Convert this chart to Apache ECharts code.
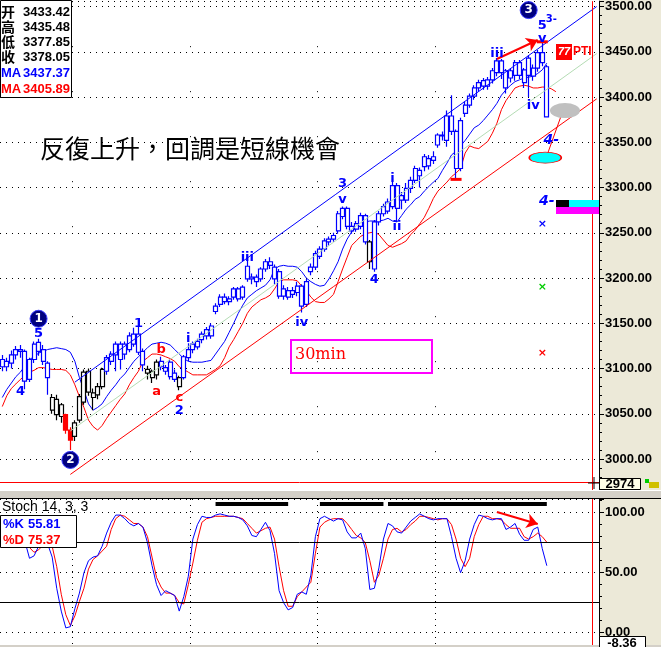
<!DOCTYPE html>
<html><head><meta charset="utf-8">
<script src="https://cdn.jsdelivr.net/npm/echarts@6/dist/echarts.min.js"></script>
<style>html,body{margin:0;padding:0;background:#fff;}#c{width:661px;height:647px;}</style>
</head><body><div id="c"></div>
<script>
// ---------- data ----------
const categories = Array.from({length: 132}, (_, i) => String(i + 1));
const opens = [3110,3102,3106,3115,3121,3119,3088,3110,3119,3121, 3106,3068,3066,3060,3049,3032,3025,3043,3063,3097, 3073,3071,3080,3097,3108,3115,3127,3116,3121,3127, 3138,3119,3099,3097,3093,3108,3101,3107,3095,3090, 3090,3112,3121,3124,3132,3143,3136,3163,3171,3179, 3174,3179,3188,3179,3213,3199,3201,3199,3210,3214, 3212,3207,3180,3186,3182,3184,3191,3171,3207,3212, 3224,3232,3243,3243,3252,3268,3277,3257,3254,3257, 3269,3240,3210,3262,3271,3274,3279,3302,3286,3286, 3299,3308,3313,3323,3332,3330,3347,3357,3352,3379, 3362,3321,3382,3391,3401,3410,3412,3419,3419,3427, 3440,3429,3421,3424,3438,3430,3424,3432,3432,3449, 3433.42];
const closes = [3102,3108,3115,3121,3119,3086,3110,3127,3129,3108, 3090,3054,3049,3047,3032,3021,3040,3069,3096,3074, 3068,3080,3099,3112,3116,3127,3110,3127,3136,3138, 3118,3104,3095,3090,3107,3102,3097,3091,3088,3080, 3113,3121,3127,3130,3138,3136,3147,3169,3179,3174, 3177,3188,3177,3190,3199,3201,3196,3210,3218,3218, 3199,3180,3188,3179,3186,3191,3169,3196,3212,3227, 3232,3241,3240,3247,3271,3277,3257,3252,3260,3269, 3240,3218,3262,3271,3279,3284,3302,3277,3291,3299, 3308,3321,3319,3334,3324,3334,3358,3358,3379,3362, 3321,3374,3391,3401,3410,3416,3418,3412,3429,3440, 3427,3410,3429,3438,3424,3416,3443,3423,3449,3438, 3378.05];
const highs = [3115,3112,3120,3125,3126,3121,3112,3130,3133,3126, 3108,3072,3071,3062,3050,3035,3043,3072,3099,3100, 3078,3084,3101,3115,3119,3130,3130,3130,3140,3145, 3147,3122,3103,3099,3110,3113,3104,3110,3099,3092, 3115,3128,3130,3133,3141,3146,3150,3172,3182,3183, 3180,3190,3190,3192,3223,3205,3204,3212,3221,3223, 3215,3210,3192,3190,3190,3196,3193,3199,3216,3230, 3235,3244,3246,3250,3274,3279,3279,3262,3263,3272, 3271,3242,3264,3274,3282,3288,3310,3305,3295,3305, 3312,3324,3322,3337,3336,3340,3360,3362,3385,3402, 3364,3377,3395,3404,3413,3419,3421,3422,3432,3443, 3442,3431,3432,3441,3441,3432,3446,3436,3452,3460, 3435.48];
const lows = [3097,3097,3100,3110,3112,3077,3085,3106,3114,3104, 3071,3050,3043,3040,3028,3010,3020,3040,3060,3070, 3054,3066,3077,3093,3104,3097,3099,3110,3118,3124, 3115,3097,3088,3084,3088,3098,3093,3088,3085,3076, 3088,3108,3117,3121,3128,3132,3133,3160,3168,3171, 3170,3176,3174,3176,3196,3193,3190,3196,3207,3210, 3193,3177,3176,3176,3178,3180,3162,3168,3203,3209, 3221,3229,3236,3240,3249,3265,3254,3249,3251,3254, 3237,3210,3207,3258,3268,3271,3276,3262,3276,3283, 3294,3305,3300,3318,3320,3326,3344,3352,3345,3358, 3310,3318,3378,3388,3397,3406,3408,3408,3415,3423, 3420,3404,3416,3418,3420,3410,3400,3418,3428,3434, 3377.85];
// paint-bar class per candle: b = normal, k = black paint bar, r = red paint bar
const paint = 'bbbbbbbbbbbkkkrrkkkkkkkbbbbbbbbbkkkbbbbk' + 'bbbbbbbbbbbbbbbbbbbbbbbbbbbbbbbbbbbbbbbbbk' + 'bbbbbbbbbbbbbbbbbbbbbbbbbbbbbbbbbbbbbbb';
const maShort = [3068,3077,3084,3091,3096,3103,3110,3113,3117,3119, 3121,3122,3123,3122,3121,3118,3108,3090,3076,3061, 3054,3057,3061,3069,3076,3082,3089,3094,3101,3108, 3113,3118,3123,3127,3128,3129,3128,3126,3121,3116, 3111,3108,3107,3107,3107,3108,3109,3116,3123,3130, 3140,3150,3161,3170,3178,3182,3186,3189,3192,3198, 3210,3213,3214,3213,3213,3212,3207,3200,3196,3193, 3191,3192,3199,3208,3218,3232,3243,3251,3256,3259, 3262,3263,3263,3263,3264,3266,3263,3262,3269,3276, 3281,3287,3290,3296,3301,3306,3310,3319,3327,3336, 3340,3346,3352,3359,3366,3369,3374,3380,3386,3393, 3402,3408,3413,3417,3419,3421,3422,3423,3426,3430, 3437.37];
const maLong = [3058,3070,3078,3083,3088,3092,3096,3098,3101,3101, 3100,3099,3099,3099,3098,3093,3082,3069,3057,3043, 3036,3032,3037,3045,3052,3059,3066,3072,3082,3090, 3097,3108,3112,3116,3116,3115,3113,3111,3108,3102, 3099,3096,3093,3093,3093,3093,3096,3099,3103,3112, 3124,3132,3141,3150,3161,3168,3172,3176,3178,3181, 3188,3196,3198,3198,3198,3197,3191,3186,3179,3174, 3173,3173,3177,3182,3196,3210,3223,3236,3241,3246, 3249,3250,3251,3248,3242,3236,3234,3236,3238,3241, 3248,3253,3260,3267,3277,3288,3296,3301,3306,3312, 3316,3321,3338,3346,3344,3343,3347,3351,3360,3371, 3386,3396,3403,3410,3412,3413,3412,3410,3410,3411, 3411,3409,3405.89];
const stochK = [84,82,80,78,80,76,62,64,72,77, 74,63,37,18,4,5,20,33,50,60, 63,64,72,83,92,98,98,95,91,89, 91,88,75,56,40,31,35,33,31,18, 30,47,78,90,97,96,96,98,99,98, 97,97,96,94,89,81,80,86,92,85, 66,35,25,19,21,32,34,32,48,80, 95,97,95,93,95,94,84,79,79,83, 70,36,37,54,78,91,89,84,83,88, 93,96,99,97,95,94,95,95,95,80, 62,50,60,78,90,98,97,95,94,95, 95,86,88,91,82,77,77,86,88,70, 55.81];
const stochD = [80,80,79,78,78,77,71,67,69,73, 75,72,55,32,15,6,14,26,37,53, 61,64,68,72,86,95,98,97,94,91, 91,88,80,63,46,38,33,33,31,25, 24,40,58,77,92,95,96,97,97,97, 97,97,96,95,91,87,83,85,87,88, 78,55,35,22,22,30,34,38,42,66, 88,92,94,95,95,95,91,86,81,79, 75,60,42,48,62,78,86,87,84,86, 90,93,97,97,96,95,94,95,95,90, 78,62,55,62,80,90,97,97,95,95, 94,90,87,87,87,80,78,80,83,80, 75.37];
// wave-count annotations: [text, bar index, price, colour]
const waveLabels = [
  ['5', 8, 3139, 'blue'], ['4', 4, 3075, 'blue'], ['1', 30, 3150, 'blue'],
  ['a', 34, 3074, 'red'], ['b', 35, 3121, 'red'], ['c', 39, 3068, 'red'], ['2', 39, 3054, 'blue'],
  ['i', 41, 3133, 'blue'], ['iii', 54, 3222, 'blue'], ['iv', 66, 3151, 'blue'],
  ['3', 75, 3304, 'blue'], ['v', 75, 3287, 'blue'], ['4', 82, 3198, 'blue'],
  ['i', 86, 3310, 'blue'], ['ii', 87, 3257, 'blue'], ['iii', 109, 3448, 'blue'],
  ['iv', 117, 3390, 'blue'], ['v', 119, 3464, 'blue'], ['5', 119, 3479, 'blue']
];
const circleLabels = [['1', 8, 3155], ['2', 15, 2999], ['3', 116, 3496]];
const targetLabels = [['4-', 121, 3352], ['4-', 120, 3285]];
const smallMarks = [[119, 3260, '#0000ff'], [119, 3190, '#00cc00'], [119, 3117, '#ff0000']];
const channelBlue = [[16, 3085], [131, 3500]];
const channelRed = [[15, 2983], [131, 3398]];
const channelMid = [[15, 3031], [131, 3448]];
const cursorPrice = 2974;
const cursorBar = 130;
const dayLines = [16, 42, 70, 96];
const stochBars = [[47, 63], [70, 84], [85, 120]];

// ---------- build ----------
const BLUE = '#0000ff', RED = '#ff0000';
const PAINT = {
  b: {color: '#ffffff', color0: BLUE, borderColor: BLUE, borderColor0: BLUE, borderWidth: 1.2},
  k: {color: '#ffffff', color0: '#000000', borderColor: '#000000', borderColor0: '#000000', borderWidth: 1.2},
  r: {color: RED, color0: RED, borderColor: RED, borderColor0: RED, borderWidth: 1.2}
};
const candleData = opens.map((o, i) => ({value: [o, closes[i], lows[i], highs[i]], itemStyle: PAINT[paint[i]]}));
const COL = {blue: BLUE, red: RED};
const txtPt = (t, i, p, color, font) => ({
  coord: [i, p], symbol: 'circle', symbolSize: 1, itemStyle: {color: 'rgba(0,0,0,0)'},
  label: Object.assign({show: true, position: 'inside', formatter: t, color: color,
    fontFamily: 'DejaVu Sans', fontWeight: 'bold', fontSize: 13}, font || {})
});
const markPts = [];
waveLabels.forEach(([t, i, p, c]) => markPts.push(txtPt(t, i, p, COL[c])));
markPts.push(txtPt('3-', 121, 3486, BLUE, {fontSize: 10}));
targetLabels.forEach(([t, i, p]) => markPts.push(txtPt(t, i, p, BLUE, {fontStyle: 'italic', fontSize: 14})));
smallMarks.forEach(([i, p, c]) => markPts.push(txtPt('×', i, p, c, {fontSize: 11})));
circleLabels.forEach(([t, i, p]) => markPts.push({
  coord: [i, p], symbol: 'circle', symbolSize: 17,
  itemStyle: {color: '#000080', borderColor: '#3a3aff', borderWidth: 1},
  label: {show: true, position: 'inside', formatter: t, color: '#fff', fontWeight: 'bold', fontSize: 12, fontFamily: 'DejaVu Sans'}
}));
markPts.push({coord: [119, 3333], symbol: 'circle', symbolSize: [32, 11], symbolOffset: [3, 0],
  itemStyle: {color: '#00ffff', borderColor: RED, borderWidth: 1}, label: {show: false}});
markPts.push({coord: [124, 3385], symbol: 'circle', symbolSize: [30, 15],
  itemStyle: {color: '#c0c0c0'}, label: {show: false}});
markPts.push({coord: [100, 3309], symbol: 'rect', symbolSize: [11, 3], itemStyle: {color: RED}, label: {show: false}});
markPts.push({coord: [119, 3461], symbol: 'rect', symbolSize: [11, 3], itemStyle: {color: RED}, label: {show: false}});

const seg = (a, b, color, extra) => [Object.assign({coord: a, lineStyle: Object.assign({color: color, width: 1, type: 'solid'}, extra || {})}), {coord: b}];

const font = (w, s, f) => w + ' ' + s + 'px ' + f;
const T = (x, y, text, fill, f, align) => ({type: 'text', x: x, y: y, z: 100,
  style: {text: text, fill: fill, font: f, textAlign: align || 'left', align: align || 'left', textVerticalAlign: 'middle', verticalAlign: 'middle'}});
const R = (x, y, w, h, fill, stroke, z) => ({type: 'rect', z: z == null ? 90 : z,
  shape: {x: x, y: y, width: w, height: h}, style: {fill: fill, stroke: stroke || null, lineWidth: 1}});
const L = (x1, y1, x2, y2, stroke, z, w) => ({type: 'line', z: z == null ? 95 : z,
  shape: {x1: x1, y1: y1, x2: x2, y2: y2}, style: {stroke: stroke, lineWidth: w || 1}});

const numF = font('bold', 13, '"Liberation Sans", Arial');
const cjkF = font('bold', 14, '"Noto Sans CJK SC"');
const graphics = [
  R(599, 0, 62, 647, '#ece9d8', null, -5),
  R(0, 490, 661, 9, '#d4d0c8', null, 80),
  L(0, 490.5, 661, 490.5, '#ffffff', 81),
  L(0, 498.5, 661, 498.5, '#000000', 81),
  R(0, 645, 661, 2, '#d4d0c8', null, 80),
  // price legend box
  R(0.5, 0.5, 71, 97, '#ffffff', '#000000'),
  T(1, 12, '开', '#000', cjkF), T(70, 12, '3433.42', '#000', numF, 'right'),
  T(1, 27, '高', '#000', cjkF), T(70, 27, '3435.48', '#000', numF, 'right'),
  T(1, 42, '低', '#000', cjkF), T(70, 42, '3377.85', '#000', numF, 'right'),
  T(1, 57, '收', '#000', cjkF), T(70, 57, '3378.05', '#000', numF, 'right'),
  T(1, 73, 'MA', BLUE, numF), T(70, 73, '3437.37', BLUE, numF, 'right'),
  T(1, 89, 'MA', RED, numF), T(70, 89, '3405.89', RED, numF, 'right'),
  // headline
  T(40, 148, '反復上升，回調是短線機會', '#000', font('normal', 25, '"Noto Sans CJK TC"')),
  // 30min box
  {type: 'rect', z: 90, shape: {x: 291, y: 340, width: 141, height: 33}, style: {fill: null, stroke: '#ff00ff', lineWidth: 2}},
  T(295, 355, '30min', RED, font('normal', 16, '"DejaVu Serif"')),
  // 77PTI tag
  R(556, 44, 16, 16, RED, null),
  T(564, 52, '77', '#fff', font('italic bold', 11, '"Liberation Sans"'), 'center'),
  T(573, 52, 'PTI', RED, font('bold', 12, '"Liberation Sans"')),
  // target bars
  R(556, 200, 13, 7, '#000000', null, 60), R(569, 200, 30, 7, '#00ffff', null, 60), R(556, 207, 43, 7, '#ff00ff', null, 60),
  // cursor value boxes
  R(599.5, 478.5, 41, 11, '#ffffe8', '#000'), T(620, 484, '2974', '#000', numF, 'center'),
  R(641, 478, 20, 12, '#ece9d8', null), R(645, 479, 4, 4, '#00cc00', null), R(649, 482, 10, 6, '#d0c000', null),
  L(588, 483, 600, 483, '#000', 96), L(594, 477, 594, 489, '#000', 96),
  R(599.5, 636.5, 46, 12, '#ffffff', '#000'), T(622, 643, '-8.36', '#000', numF, 'center'),
  // stoch legend
  T(2, 507, 'Stoch 14, 3, 3', '#000', font('normal', 14, '"Liberation Sans", Arial')),
  R(0.5, 515.5, 76, 32, '#ffffff', '#000'),
  T(3, 524, '%K', BLUE, numF), T(28, 524, '55.81', BLUE, numF),
  T(3, 540, '%D', RED, numF), T(28, 540, '75.37', RED, numF)
];

const option = {
  animation: false,
  backgroundColor: '#ffffff',
  grid: [
    {left: 0, top: 0, width: 599, height: 490},
    {left: 0, top: 499, width: 599, height: 146}
  ],
  xAxis: [0, 1].map(g => ({
    type: 'category', gridIndex: g, data: categories, boundaryGap: true,
    axisLine: {show: false}, axisTick: {show: false}, axisLabel: {show: false},
    splitLine: {show: true, interval: (idx) => dayLines.includes(idx),
      lineStyle: {color: '#000', width: 1, type: g === 0 ? [1, 44] : [1, 5]}}
  })),
  yAxis: [
    {type: 'value', gridIndex: 0, position: 'right', min: 2965.8, max: 3505.9, splitNumber: 11, scale: true,
      axisLine: {show: true, lineStyle: {color: '#000'}},
      axisTick: {show: true, length: 5, lineStyle: {color: '#000'}},
      minorTick: {show: true, splitNumber: 5, length: 3, lineStyle: {color: '#000'}},
      axisLabel: {margin: 6, color: '#000', fontWeight: 'bold', fontSize: 13, fontFamily: '"Liberation Sans", Arial',
        formatter: v => (Math.abs(v % 50) < 1e-6 ? v.toFixed(2) : '')},
      splitLine: {show: true, lineStyle: {color: '#000', type: [1, 5]}}},
    {type: 'value', gridIndex: 1, position: 'right', min: -10.25, max: 111.4, splitNumber: 2,
      axisLine: {show: true, lineStyle: {color: '#000'}},
      axisTick: {show: true, length: 5, lineStyle: {color: '#000'}},
      minorTick: {show: true, splitNumber: 5, length: 3, lineStyle: {color: '#000'}},
      axisLabel: {margin: 6, color: '#000', fontWeight: 'bold', fontSize: 13, fontFamily: '"Liberation Sans", Arial',
        formatter: v => (Math.abs(v % 50) < 1e-6 ? v.toFixed(2) : '')},
      splitLine: {show: true, lineStyle: {color: '#000', type: [1, 5]}}}
  ],
  series: [
    {type: 'line', name: 'MA long', xAxisIndex: 0, yAxisIndex: 0, data: maLong, showSymbol: false,
      lineStyle: {color: RED, width: 1}, z: 2,
      markLine: {silent: true, symbol: ['none', 'none'], label: {show: false}, animation: false,
        data: [
          seg(channelBlue[0], channelBlue[1], BLUE),
          seg(channelRed[0], channelRed[1], RED),
          seg(channelMid[0], channelMid[1], '#b4dcb4'),
          seg([120, 3335], [124, 3391], RED),
          [{coord: [109, 3442], lineStyle: {color: RED, width: 2, type: 'solid'}, symbol: 'none'}, {coord: [118, 3463], symbol: 'arrow', symbolSize: 11}],
          {yAxis: cursorPrice, lineStyle: {color: RED, width: 1, type: 'solid'}},
          {xAxis: cursorBar, lineStyle: {color: RED, width: 1, type: 'solid'}}
        ]}},
    {type: 'line', name: 'MA short', xAxisIndex: 0, yAxisIndex: 0, data: maShort, showSymbol: false,
      lineStyle: {color: BLUE, width: 1}, z: 2},
    {type: 'candlestick', name: 'price', xAxisIndex: 0, yAxisIndex: 0, data: candleData, barWidth: 4.5, z: 3,
      itemStyle: PAINT.b,
      markPoint: {silent: true, animation: false, data: markPts}},
    {type: 'line', name: '%K', xAxisIndex: 1, yAxisIndex: 1, data: stochK, showSymbol: false,
      lineStyle: {color: BLUE, width: 1}, z: 3,
      markLine: {silent: true, symbol: ['none', 'none'], label: {show: false}, animation: false,
        data: [
          {yAxis: 75, lineStyle: {color: '#000', width: 1, type: 'solid'}},
          {yAxis: 25, lineStyle: {color: '#000', width: 1, type: 'solid'}},
          {xAxis: cursorBar, lineStyle: {color: RED, width: 1, type: 'solid'}},
          [{coord: [109, 100.6], lineStyle: {color: RED, width: 2, type: 'solid'}, symbol: 'none'}, {coord: [118, 90.6], symbol: 'arrow', symbolSize: 11}]
        ].concat(stochBars.map(([a, b]) => seg([a, 107.7], [b, 107.7], '#000', {width: 4})))}},
    {type: 'line', name: '%D', xAxisIndex: 1, yAxisIndex: 1, data: stochD, showSymbol: false,
      lineStyle: {color: RED, width: 1}, z: 2}
  ],
  graphic: graphics
};
const chart = echarts.init(document.getElementById('c'), null, {renderer: 'canvas'});
chart.setOption(option);
</script></body></html>
